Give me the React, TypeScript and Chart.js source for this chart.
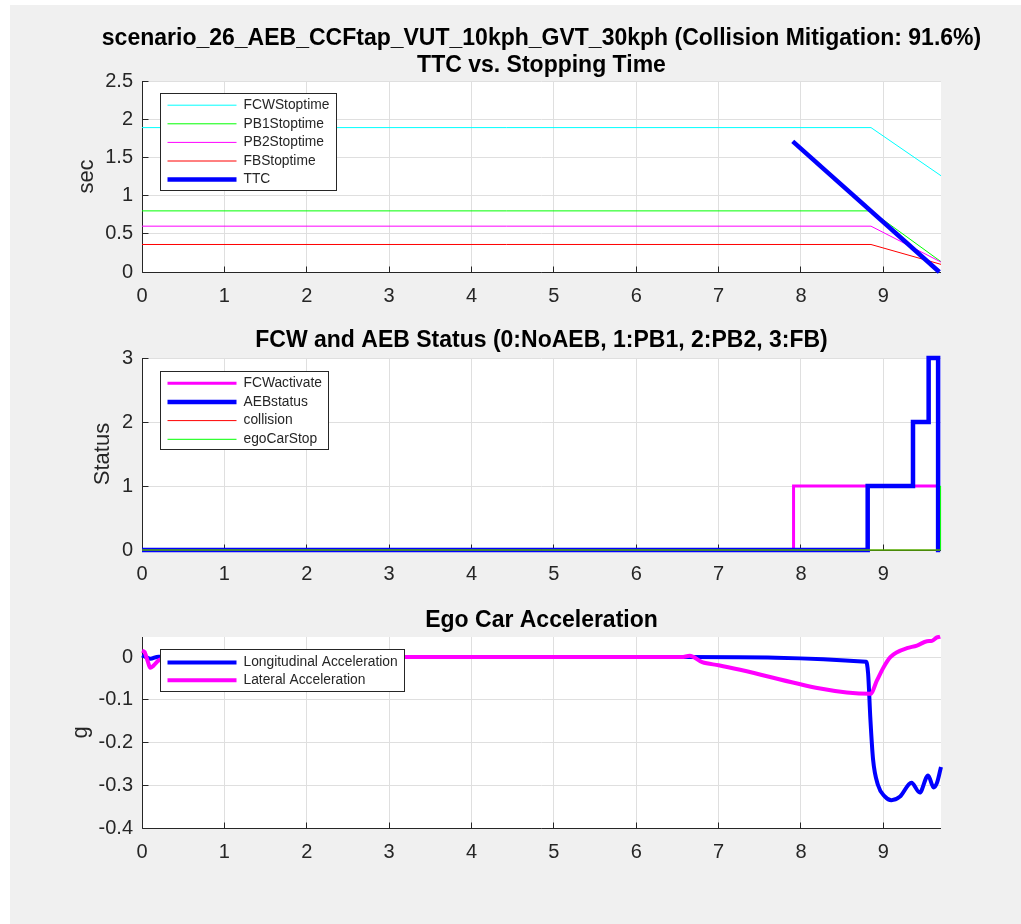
import React, { useEffect, useRef } from "react";
import { Chart, registerables } from "chart.js";

Chart.register(...registerables);

const FONT = "'Liberation Sans', Arial, Helvetica, sans-serif";
const AXIS_COLOR = "#262626";
const GRID_COLOR = "#dfdfdf";
const TEXT_COLOR = "#262626";
const FIG_BG = "#f0f0f0";

// Shared time axis (s)
const timeTicks = [0, 1, 2, 3, 4, 5, 6, 7, 8, 9];
const timeTickLabels = ["0", "1", "2", "3", "4", "5", "6", "7", "8", "9"];
const timeMax = 9.7;

// TTC vs. stopping time (s)
const fcwStopT = [0, 8.85, 9.7];
const fcwStopV = [1.89, 1.89, 1.26];
const pb1StopT = [0, 8.85, 9.7];
const pb1StopV = [0.8, 0.8, 0.135];
const pb2StopT = [0, 8.85, 9.7];
const pb2StopV = [0.6, 0.6, 0.13];
const fbStopT = [0, 8.85, 9.7];
const fbStopV = [0.36, 0.36, 0.1];
const ttcT = [7.9, 9.68];
const ttcV = [1.71, 0.0];
const secTicks = [0, 0.5, 1, 1.5, 2, 2.5];
const secTickLabels = ["0", "0.5", "1", "1.5", "2", "2.5"];

// FCW / AEB status (step signals, value held until next time)
const fcwActT = [0, 7.91, 9.68];
const fcwActV = [0, 1, 1];
const aebT = [0, 8.81, 9.36, 9.55, 9.665, 9.69];
const aebV = [0, 1, 2, 3, 0, 0];
const collisionT = [0, 9.69];
const collisionV = [0, 0];
const egoStopT = [0, 9.695, 9.7];
const egoStopV = [0, 1, 1];
const statusTicks = [0, 1, 2, 3];
const statusTickLabels = ["0", "1", "2", "3"];

// Ego car acceleration (g)
const longAccT = [0, 0.05, 0.1, 0.2, 0.4, 6.6, 8.79, 8.815, 8.843, 8.875, 8.936, 9.017, 9.098, 9.199, 9.341, 9.442, 9.543, 9.61, 9.65, 9.7];
const longAccV = [0.004, 0.0, -0.004, 0.001, 0.0, 0.0, -0.011, -0.038, -0.146, -0.239, -0.3, -0.326, -0.335, -0.327, -0.294, -0.317, -0.277, -0.305, -0.295, -0.257];
const latAccT = [0, 0.03, 0.07, 0.1, 0.14, 0.2, 0.3, 0.5, 6.55, 6.65, 6.8, 7.0, 8.843, 8.924, 9.005, 9.085, 9.166, 9.287, 9.408, 9.53, 9.59, 9.65, 9.69];
const latAccV = [0.015, 0.012, -0.01, -0.025, -0.02, -0.008, -0.002, 0.0, 0.0, 0.003, -0.012, -0.019, -0.086, -0.054, -0.023, 0.0, 0.0115, 0.021, 0.027, 0.037, 0.038, 0.046, 0.048];
const gTicks = [-0.4, -0.3, -0.2, -0.1, 0];
const gTickLabels = ["-0.4", "-0.3", "-0.2", "-0.1", "0"];

type Series = {
  label: string;
  t: number[];
  v: number[];
  color: string;
  width: number;
  stepped?: boolean;
  smooth?: boolean;
};

type LegendSpec = { dx: number; dy: number; rowTop: number; rowGap: number; bottomPad: number };

type PanelSpec = {
  top: number;
  height: number;
  areaTop: number;
  xAxisHeight: number;
  titleLines: string[];
  titleY: number[];
  yMin: number;
  yMax: number;
  yTicks: number[];
  yTickLabels: string[];
  yLabel: string;
  yLabelPad: number;
  series: Series[];
  legend: LegendSpec;
};

const panels: PanelSpec[] = [
  {
    top: 5,
    height: 300,
    areaTop: 76,
    xAxisHeight: 33,
    titleLines: [
      "scenario_26_AEB_CCFtap_VUT_10kph_GVT_30kph (Collision Mitigation: 91.6%)",
      "TTC vs. Stopping Time",
    ],
    titleY: [34, 61],
    yMin: 0,
    yMax: 2.5,
    yTicks: secTicks,
    yTickLabels: secTickLabels,
    yLabel: "sec",
    yLabelPad: 64,
    series: [
      { label: "FCWStoptime", t: fcwStopT, v: fcwStopV, color: "#00ffff", width: 1 },
      { label: "PB1Stoptime", t: pb1StopT, v: pb1StopV, color: "#00ff00", width: 1 },
      { label: "PB2Stoptime", t: pb2StopT, v: pb2StopV, color: "#ff00ff", width: 1 },
      { label: "FBStoptime", t: fbStopT, v: fbStopV, color: "#ff0000", width: 1 },
      { label: "TTC", t: ttcT, v: ttcV, color: "#0000ff", width: 4.5 },
    ],
    legend: { dx: 18, dy: 12, rowTop: 11.7, rowGap: 18.6, bottomPad: 11 },
  },
  {
    top: 305,
    height: 280,
    areaTop: 53,
    xAxisHeight: 35,
    titleLines: ["FCW and AEB Status (0:NoAEB, 1:PB1, 2:PB2, 3:FB)"],
    titleY: [36],
    yMin: 0,
    yMax: 3,
    yTicks: statusTicks,
    yTickLabels: statusTickLabels,
    yLabel: "Status",
    yLabelPad: 80,
    series: [
      { label: "FCWactivate", t: fcwActT, v: fcwActV, color: "#ff00ff", width: 3, stepped: true },
      { label: "AEBstatus", t: aebT, v: aebV, color: "#0000ff", width: 4.5, stepped: true },
      { label: "collision", t: collisionT, v: collisionV, color: "#ff0000", width: 1, stepped: true },
      { label: "egoCarStop", t: egoStopT, v: egoStopV, color: "#00ff00", width: 1, stepped: true },
    ],
    legend: { dx: 18, dy: 13, rowTop: 11.7, rowGap: 18.7, bottomPad: 10.5 },
  },
  {
    top: 585,
    height: 339,
    areaTop: 52,
    xAxisHeight: 96,
    titleLines: ["Ego Car Acceleration"],
    titleY: [36],
    yMin: -0.4,
    yMax: 0.047,
    yTicks: gTicks,
    yTickLabels: gTickLabels,
    yLabel: "g",
    yLabelPad: 58,
    series: [
      { label: "Longitudinal Acceleration", t: longAccT, v: longAccV, color: "#0000ff", width: 4, smooth: true },
      { label: "Lateral Acceleration", t: latAccT, v: latAccV, color: "#ff00ff", width: 4, smooth: true },
    ],
    legend: { dx: 18, dy: 12, rowTop: 13, rowGap: 17.7, bottomPad: 11.3 },
  },
];

const align = (p: number) => Math.round(p - 0.5) + 0.5;

function makePlugin(spec: PanelSpec) {
  return {
    id: "panelDecor",
    beforeDraw(chart: any) {
      const { ctx, chartArea } = chart;
      ctx.save();
      ctx.fillStyle = "#ffffff";
      ctx.fillRect(chartArea.left, chartArea.top, chartArea.right - chartArea.left, chartArea.bottom - chartArea.top);
      ctx.restore();
    },
    beforeDatasetsDraw(chart: any) {
      const { ctx, chartArea, scales } = chart;
      const { left, right, top, bottom } = chartArea;
      ctx.save();
      ctx.strokeStyle = AXIS_COLOR;
      ctx.lineWidth = 1;
      ctx.beginPath();
      const bx = align(left);
      const by = align(bottom);
      ctx.moveTo(bx, top);
      ctx.lineTo(bx, by);
      ctx.lineTo(right, by);
      timeTicks.forEach((v) => {
        const px = align(scales.x.getPixelForValue(v));
        ctx.moveTo(px, by);
        ctx.lineTo(px, by - 6);
      });
      spec.yTicks.forEach((v) => {
        const py = align(scales.y.getPixelForValue(v));
        ctx.moveTo(bx, py);
        ctx.lineTo(bx + 6, py);
      });
      ctx.stroke();
      ctx.restore();
    },
    afterDraw(chart: any) {
      const { ctx, chartArea } = chart;
      ctx.save();
      // axes title
      ctx.fillStyle = "#000000";
      ctx.font = `bold 23px ${FONT}`;
      ctx.textAlign = "center";
      ctx.textBaseline = "middle";
      const cx = (chartArea.left + chartArea.right) / 2;
      spec.titleLines.forEach((line, i) => ctx.fillText(line, cx, spec.titleY[i]));

      // legend box
      const lg = spec.legend;
      ctx.font = `13.8px ${FONT}`;
      const textW = Math.max(...spec.series.map((s) => ctx.measureText(s.label).width));
      const bx = align(chartArea.left + lg.dx);
      const by = align(chartArea.top + lg.dy);
      const bw = Math.round(83 + textW + 7);
      const bh = Math.round(lg.rowTop + (spec.series.length - 1) * lg.rowGap + lg.bottomPad);
      ctx.fillStyle = "#ffffff";
      ctx.fillRect(bx, by, bw, bh);
      ctx.strokeStyle = AXIS_COLOR;
      ctx.lineWidth = 1;
      ctx.strokeRect(bx, by, bw, bh);
      spec.series.forEach((s, i) => {
        const ry = by + lg.rowTop + i * lg.rowGap;
        ctx.strokeStyle = s.color;
        ctx.lineWidth = s.width;
        ctx.lineCap = "butt";
        ctx.beginPath();
        ctx.moveTo(bx + 7, ry);
        ctx.lineTo(bx + 76, ry);
        ctx.stroke();
        ctx.fillStyle = TEXT_COLOR;
        ctx.textAlign = "left";
        ctx.textBaseline = "middle";
        ctx.fillText(s.label, bx + 83, ry);
      });
      ctx.restore();
    },
  };
}

function buildConfig(spec: PanelSpec): any {
  return {
    type: "line",
    data: {
      datasets: spec.series.map((s, i) => ({
        label: s.label,
        data: s.t.map((t, k) => ({ x: t, y: s.v[k] })),
        borderColor: s.color,
        backgroundColor: s.color,
        borderWidth: s.width,
        pointRadius: 0,
        pointHoverRadius: 0,
        fill: false,
        stepped: s.stepped ? true : false,
        cubicInterpolationMode: s.smooth ? "monotone" : "default",
        tension: 0,
        borderJoinStyle: "miter",
        borderCapStyle: "butt",
        clip: false,
        order: -i,
      })),
    },
    options: {
      animation: false,
      responsive: true,
      maintainAspectRatio: false,
      events: [],
      layout: { padding: { top: spec.areaTop, right: 80, bottom: 0, left: 0 } },
      plugins: {
        legend: { display: false },
        title: { display: false },
        tooltip: { enabled: false },
      },
      scales: {
        x: {
          type: "linear",
          min: 0,
          max: timeMax,
          afterBuildTicks: (scale: any) => {
            scale.ticks = timeTicks.map((v) => ({ value: v }));
          },
          afterFit: (scale: any) => {
            scale.height = spec.xAxisHeight;
          },
          grid: { color: GRID_COLOR, lineWidth: 1, drawTicks: false },
          border: { display: false },
          ticks: {
            autoSkip: false,
            maxRotation: 0,
            padding: 12,
            color: TEXT_COLOR,
            font: { family: FONT, size: 20 },
            callback: (v: number) => timeTickLabels[timeTicks.indexOf(v)] ?? "",
          },
        },
        y: {
          type: "linear",
          min: spec.yMin,
          max: spec.yMax,
          afterBuildTicks: (scale: any) => {
            scale.ticks = spec.yTicks.map((v) => ({ value: v }));
          },
          afterFit: (scale: any) => {
            scale.width = 132;
          },
          grid: { color: GRID_COLOR, lineWidth: 1, drawTicks: false },
          border: { display: false },
          title: {
            display: true,
            text: spec.yLabel,
            color: TEXT_COLOR,
            font: { family: FONT, size: 22 },
            padding: { top: spec.yLabelPad, bottom: 0 },
          },
          ticks: {
            autoSkip: false,
            padding: 9,
            color: TEXT_COLOR,
            font: { family: FONT, size: 20 },
            callback: (v: number) => spec.yTickLabels[spec.yTicks.indexOf(v)] ?? "",
          },
        },
      },
    },
    plugins: [makePlugin(spec)],
  };
}

function Panel({ spec }: { spec: PanelSpec }) {
  const ref = useRef<HTMLCanvasElement>(null);
  useEffect(() => {
    const chart = new Chart(ref.current as HTMLCanvasElement, buildConfig(spec));
    return () => chart.destroy();
  }, [spec]);
  return (
    <div style={{ position: "absolute", left: 10, top: spec.top, width: 1011, height: spec.height }}>
      <canvas ref={ref} />
    </div>
  );
}

export default function App() {
  return (
    <>
      <div style={{ position: "absolute", left: 10, top: 5, width: 1011, height: 919, background: FIG_BG }} />
      {panels.map((p, i) => (
        <Panel key={i} spec={p} />
      ))}
    </>
  );
}
